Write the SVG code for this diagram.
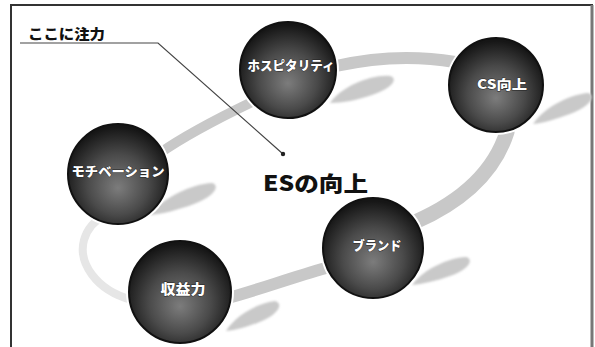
<svg xmlns="http://www.w3.org/2000/svg" width="595" height="347" viewBox="0 0 595 347">
<defs>
<radialGradient id="ball" cx="50%" cy="58%" r="55%" fx="50%" fy="64%">
<stop offset="0" stop-color="#7c7c7c"/>
<stop offset="0.55" stop-color="#4a4a4a"/>
<stop offset="1" stop-color="#161616"/>
</radialGradient>
<filter id="blur" x="-20%" y="-50%" width="140%" height="200%"><feGaussianBlur stdDeviation="1"/></filter>
</defs>
<style>
.band{fill:none;stroke:#c8c8c8;stroke-linecap:round}
.light{fill:none;stroke:#e6e6e6;stroke-linecap:round}
.shadow{fill:#c9c9c9;filter:url(#blur)}
.halo{fill:#fff}
.ball{fill:url(#ball);stroke:#111;stroke-width:2}
.lbl{font-family:"Noto Sans CJK JP","Liberation Sans",sans-serif;font-weight:900;fill:#fff;text-anchor:middle;stroke:#222;stroke-width:0.8;paint-order:stroke}
.title{font-family:"Noto Sans CJK JP","Liberation Sans",sans-serif;font-weight:900;fill:#111}
</style>
<rect x="0" y="0" width="595" height="347" fill="#fff"/>
<path d="M11 348 V5 H592 V348" fill="none" stroke="#333" stroke-width="2"/>
<line x1="592" y1="5" x2="592" y2="348" stroke="#777" stroke-width="3"/>

<g id="connectors">
<path class="light" stroke-width="8" d="M132 300 C95 290 78 262 84 240 C88 226 96 220 104 216"/>
<path class="band" stroke-width="10" d="M160 153 C190 132 225 115 252 102"/>
<path class="band" stroke-width="12" d="M336 66 C380 56 420 56 455 62"/>
<path class="band" stroke-width="15" d="M507 132 C495 170 465 200 415 222"/>
<path class="band" stroke-width="12" d="M326 268 C290 278 258 290 228 298"/>
<path d="M20 43 H158 L283 154" fill="none" stroke="#444" stroke-width="1.2"/>
<circle cx="283" cy="154" r="2.2" fill="#222"/>
</g>

<g id="shadows">
<path class="shadow" d="M330 103 C342 86 372 74 390 76 C398 78 394 88 372 95 C358 100 342 103 330 103 Z"/>
<path class="shadow" d="M533 124 C545 106 572 94 588 93 C596 95 592 106 570 114 C556 119 544 123 533 124 Z"/>
<path class="shadow" d="M150 215 C162 198 192 184 212 183 C220 185 216 196 194 204 C178 210 162 214 150 215 Z"/>
<path class="shadow" d="M226 331 C236 315 258 303 275 301 C283 303 280 313 262 321 C250 326 236 330 226 331 Z"/>
<path class="shadow" d="M412 285 C424 269 448 258 466 257 C474 259 470 269 450 276 C436 281 422 284 412 285 Z"/>
</g>

<g id="label-focus">
<text class="title" x="28" y="39" font-size="14" textLength="77" lengthAdjust="spacingAndGlyphs">ここに注力</text>
</g>

<g id="center-title">
<text class="title" x="263" y="191" font-size="21" textLength="105" lengthAdjust="spacingAndGlyphs">ESの向上</text>
</g>

<g id="node-hospitality">
<circle class="halo" cx="288" cy="70" r="51"/>
<circle class="ball" cx="288" cy="70" r="48"/>
<text class="lbl" x="291" y="70" font-size="13" textLength="87" lengthAdjust="spacingAndGlyphs">ホスピタリティ</text>
</g>

<g id="node-cs">
<circle class="halo" cx="496" cy="85" r="50"/>
<circle class="ball" cx="496" cy="85" r="47"/>
<text class="lbl" x="502" y="89" font-size="13" textLength="50" lengthAdjust="spacingAndGlyphs">CS向上</text>
</g>

<g id="node-motivation">
<circle class="halo" cx="118" cy="174" r="53"/>
<circle class="ball" cx="118" cy="174" r="50"/>
<text class="lbl" x="118" y="176" font-size="13" textLength="93" lengthAdjust="spacingAndGlyphs">モチベーション</text>
</g>

<g id="node-profit">
<circle class="halo" cx="180" cy="292" r="54"/>
<circle class="ball" cx="180" cy="292" r="51"/>
<text class="lbl" x="183" y="294" font-size="14" textLength="45" lengthAdjust="spacingAndGlyphs">収益力</text>
</g>

<g id="node-brand">
<circle class="halo" cx="373" cy="248" r="53"/>
<circle class="ball" cx="373" cy="248" r="50"/>
<text class="lbl" x="377" y="250" font-size="13" textLength="49" lengthAdjust="spacingAndGlyphs">ブランド</text>
</g>
</svg>
